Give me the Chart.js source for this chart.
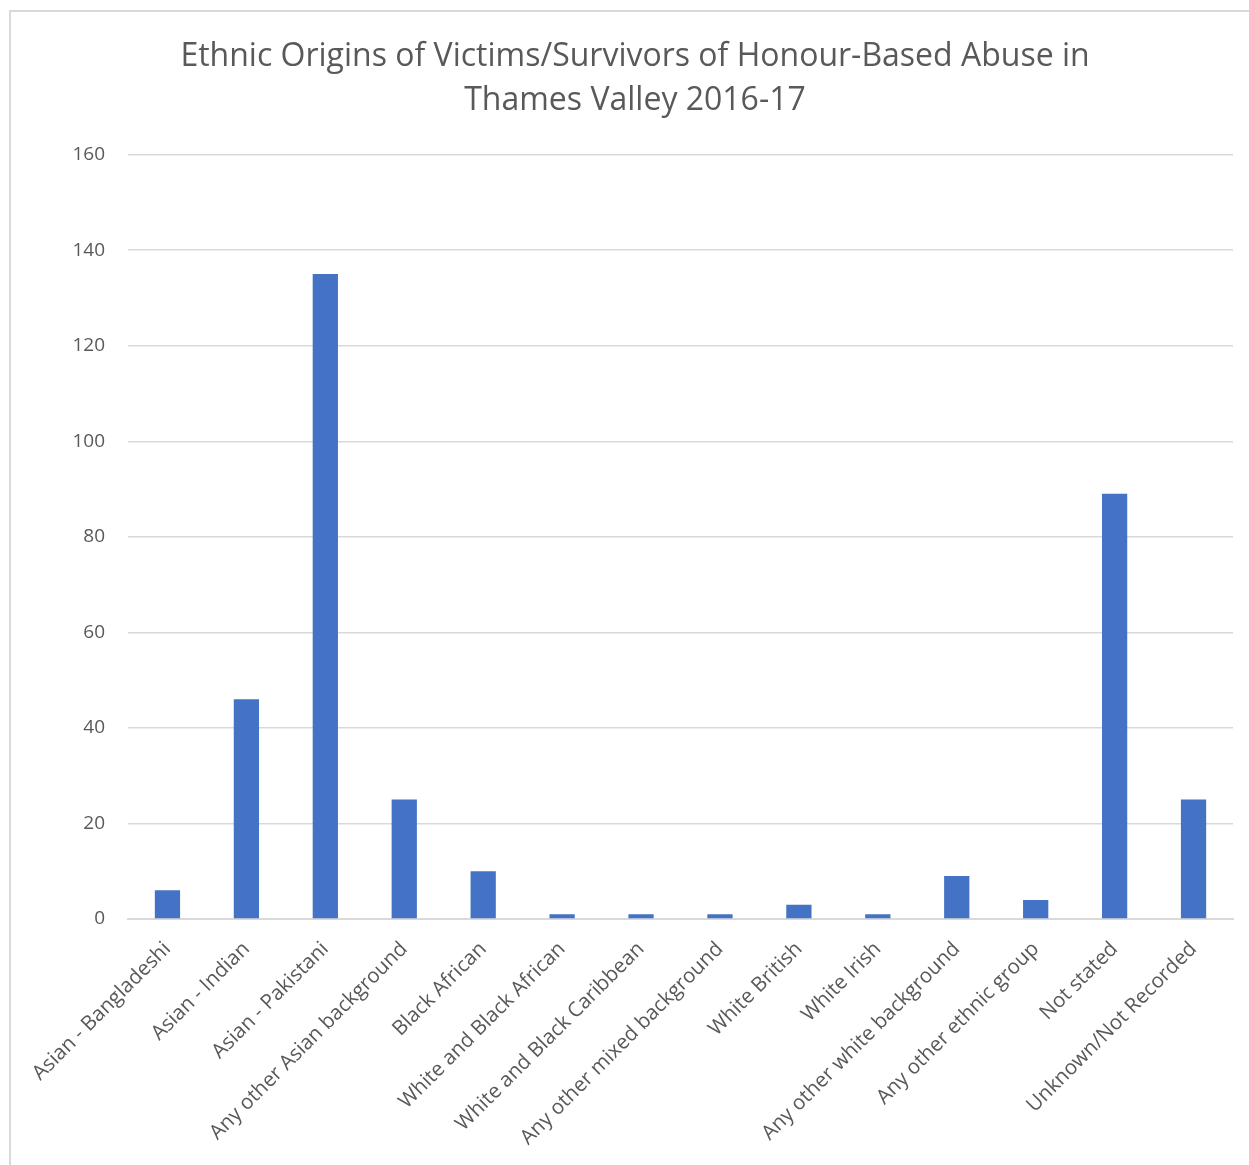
<!DOCTYPE html>
<html>
<head>
<meta charset="utf-8">
<script src="https://cdn.jsdelivr.net/npm/chart.js@4"></script>
<style>
  html, body { margin: 0; padding: 0; background: #fff; overflow: hidden; }
  #frame {
    position: absolute; left: 9px; top: 10px;
    width: 1260px; height: 1170px;
    border: 2px solid #d9d9d9; box-sizing: border-box;
  }
  #wrap { position: absolute; left: 0; top: 0; width: 1270px; height: 1165px; }
</style>
</head>
<body>
<div id="frame"></div>
<div id="wrap"><canvas id="chart" width="1270" height="1165"></canvas></div>
<script>
const titleLines = ['Ethnic Origins of Victims/Survivors of Honour-Based Abuse in', 'Thames Valley 2016-17'];
const categories = [
  'Asian - Bangladeshi', 'Asian - Indian', 'Asian - Pakistani', 'Any other Asian background',
  'Black African', 'White and Black African', 'White and Black Caribbean', 'Any other mixed background',
  'White British', 'White Irish', 'Any other white background', 'Any other ethnic group',
  'Not stated', 'Unknown/Not Recorded'
];
const victims = [6, 46, 135, 25, 10, 1, 1, 1, 3, 1, 9, 4, 89, 25];
const yTicks = [0, 20, 40, 60, 80, 100, 120, 140, 160];

const textGrey = '#595959';
const gridGrey = '#d9d9d9';

const ctx = document.getElementById('chart').getContext('2d');
new Chart(ctx, {
  type: 'bar',
  data: {
    labels: categories,
    datasets: [{
      data: victims,
      backgroundColor: '#4472c4',
      borderWidth: 0,
      barPercentage: 0.32,
      categoryPercentage: 1
    }]
  },
  options: {
    responsive: false,
    animation: false,
    layout: { padding: 0 },
    plugins: {
      legend: { display: false },
      tooltip: { enabled: false },
      title: {
        display: true,
        text: titleLines,
        color: textGrey,
        font: { family: '"Open Sans", sans-serif', size: 32, weight: 'normal', lineHeight: 1.4 },
        padding: { top: 34, bottom: 31 }
      }
    },
    scales: {
      x: {
        grid: { display: false, drawTicks: false },
        border: { color: gridGrey, width: 2 },
        ticks: {
          color: textGrey,
          font: { family: '"Open Sans", sans-serif', size: 20.5 },
          minRotation: 45,
          maxRotation: 45,
          autoSkip: false,
          padding: 18
        },
        afterFit: (scale) => { scale.height = 246; }
      },
      y: {
        min: 0,
        max: 160,
        afterBuildTicks: (scale) => { scale.ticks = yTicks.map(v => ({ value: v })); },
        grid: { color: gridGrey, lineWidth: 1.5, drawTicks: false },
        border: { display: false },
        ticks: {
          color: textGrey,
          font: { family: '"Open Sans", sans-serif', size: 19 },
          padding: 23
        },
        afterFit: (scale) => { scale.width = 128; }
      },
      // empty right-hand gutter so the title stays centred on the whole frame
      gutter: {
        type: 'linear',
        position: 'right',
        grid: { display: false, drawTicks: false },
        border: { display: false },
        ticks: { display: false },
        afterFit: (scale) => { scale.width = 37; }
      }
    }
  }
});
</script>
</body>
</html>
